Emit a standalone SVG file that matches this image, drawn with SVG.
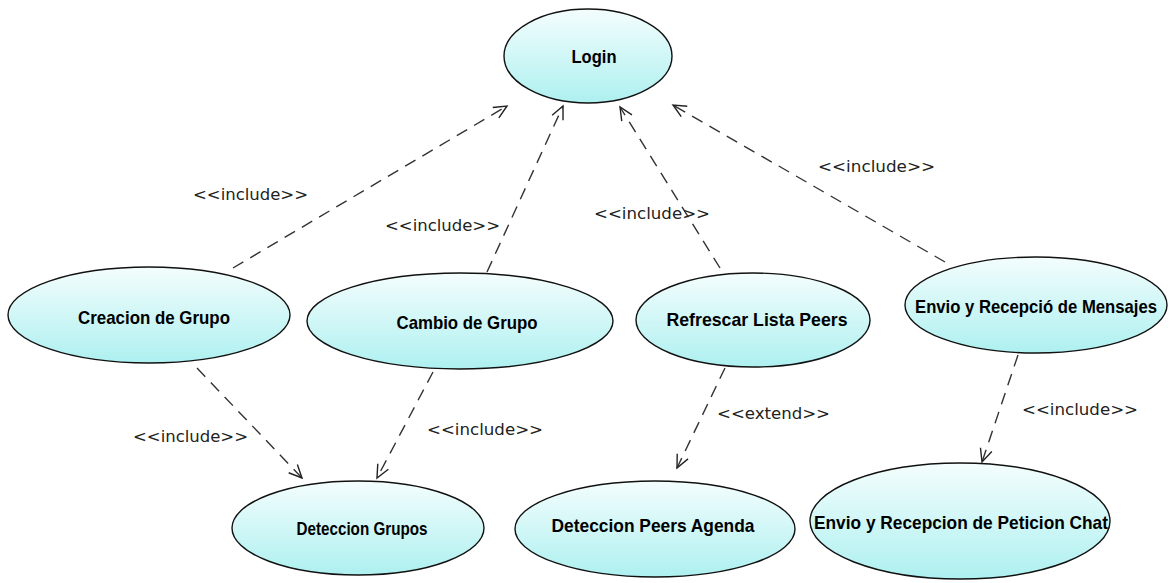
<svg xmlns="http://www.w3.org/2000/svg" width="1174" height="583" viewBox="0 0 1174 583">
  <defs>
    <linearGradient id="ucFill" x1="0" y1="0" x2="0" y2="1">
      <stop offset="0" stop-color="#f4fdfd"/>
      <stop offset="1" stop-color="#aef0f0"/>
    </linearGradient>
    <marker id="openArrow" markerUnits="userSpaceOnUse" markerWidth="16" markerHeight="14" refX="14" refY="7" orient="auto">
      <path d="M1,1 L14,7 L1,13" fill="none" stroke="#222" stroke-width="1.4"/>
    </marker>
    <style>
      .uc ellipse { fill: url(#ucFill); stroke: #111; stroke-width: 1.4; }
      .uc text { font-family: "Liberation Sans", Arial, sans-serif; font-weight: bold; font-size: 19px; fill: #000; text-anchor: middle; }
      .dep { fill: none; stroke: #333; stroke-width: 1.4; stroke-dasharray: 12 8; marker-end: url(#openArrow); }
      .lbl { font-family: "DejaVu Sans", Verdana, sans-serif; font-size: 16px; fill: #222; }
    </style>
  </defs>
  <rect width="1174" height="583" fill="#fff"/>

  <!-- dependency connectors -->
  <g id="connectors">
    <line class="dep" x1="233" y1="268" x2="507" y2="106"/>
    <line class="dep" x1="487" y1="272" x2="563" y2="106"/>
    <line class="dep" x1="720" y1="268" x2="620" y2="107"/>
    <line class="dep" x1="945" y1="262" x2="673" y2="105"/>
    <line class="dep" x1="197" y1="368" x2="302" y2="478"/>
    <line class="dep" x1="433" y1="372" x2="377" y2="478"/>
    <line class="dep" x1="725" y1="368" x2="677" y2="468"/>
    <line class="dep" x1="1018" y1="355" x2="982" y2="462"/>
    <text class="lbl" x="193" y="200" textLength="115" lengthAdjust="spacingAndGlyphs">&lt;&lt;include&gt;&gt;</text>
    <text class="lbl" x="385" y="231" textLength="115" lengthAdjust="spacingAndGlyphs">&lt;&lt;include&gt;&gt;</text>
    <text class="lbl" x="594" y="219" textLength="116" lengthAdjust="spacingAndGlyphs">&lt;&lt;include&gt;&gt;</text>
    <text class="lbl" x="818" y="172" textLength="117" lengthAdjust="spacingAndGlyphs">&lt;&lt;include&gt;&gt;</text>
    <text class="lbl" x="133" y="442" textLength="115" lengthAdjust="spacingAndGlyphs">&lt;&lt;include&gt;&gt;</text>
    <text class="lbl" x="427" y="435" textLength="116" lengthAdjust="spacingAndGlyphs">&lt;&lt;include&gt;&gt;</text>
    <text class="lbl" x="717" y="419" textLength="113" lengthAdjust="spacingAndGlyphs">&lt;&lt;extend&gt;&gt;</text>
    <text class="lbl" x="1022" y="415" textLength="116" lengthAdjust="spacingAndGlyphs">&lt;&lt;include&gt;&gt;</text>
  </g>

  <!-- use cases -->
  <g id="login" class="uc">
    <ellipse cx="588" cy="56" rx="84" ry="47"/>
    <text x="594" y="63" textLength="45" lengthAdjust="spacingAndGlyphs">Login</text>
  </g>
  <g id="creacion-grupo" class="uc">
    <ellipse cx="149" cy="315" rx="141" ry="48"/>
    <text x="154" y="324" textLength="152" lengthAdjust="spacingAndGlyphs">Creacion de Grupo</text>
  </g>
  <g id="cambio-grupo" class="uc">
    <ellipse cx="460" cy="321" rx="153" ry="48"/>
    <text x="467" y="329" textLength="141" lengthAdjust="spacingAndGlyphs">Cambio de Grupo</text>
  </g>
  <g id="refrescar-peers" class="uc">
    <ellipse cx="753" cy="320" rx="117" ry="47"/>
    <text x="757" y="326" textLength="181" lengthAdjust="spacingAndGlyphs">Refrescar Lista Peers</text>
  </g>
  <g id="envio-mensajes" class="uc">
    <ellipse cx="1036" cy="305" rx="131" ry="48"/>
    <text x="1036" y="313" font-size="17" textLength="242" lengthAdjust="spacingAndGlyphs">Envio y Recepció de Mensajes</text>
  </g>
  <g id="deteccion-grupos" class="uc">
    <ellipse cx="358" cy="528" rx="126" ry="47"/>
    <text x="362" y="535" textLength="131" lengthAdjust="spacingAndGlyphs">Deteccion Grupos</text>
  </g>
  <g id="deteccion-peers" class="uc">
    <ellipse cx="655" cy="529" rx="140" ry="48"/>
    <text x="653" y="532" textLength="203" lengthAdjust="spacingAndGlyphs">Deteccion Peers Agenda</text>
  </g>
  <g id="peticion-chat" class="uc">
    <ellipse cx="960" cy="521" rx="150" ry="58"/>
    <text x="961" y="529" textLength="294" lengthAdjust="spacingAndGlyphs">Envio y Recepcion de Peticion Chat</text>
  </g>
</svg>
